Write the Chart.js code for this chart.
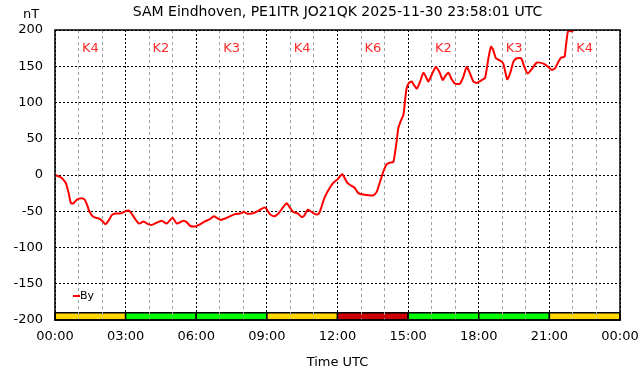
<!DOCTYPE html>
<html>
<head>
<meta charset="utf-8">
<script src="https://cdn.jsdelivr.net/npm/chart.js@4/dist/chart.umd.min.js"></script>
<style>
  html, body { margin: 0; padding: 0; background: #fff; }
  #wrap { width: 642px; height: 376px; }
</style>
</head>
<body>
<div id="wrap"><canvas id="magChart" width="642" height="376"></canvas></div>
<script>
// By component, hours UTC and nT
var hours = [
  0.00, 0.23, 0.37, 0.47, 0.58, 0.68, 0.79, 0.93, 1.12, 1.26, 1.36, 1.47, 1.64, 1.86,
  2.00, 2.14, 2.25, 2.42, 2.56, 2.78, 2.92, 3.13, 3.27, 3.41, 3.58, 3.77, 3.91, 4.09,
  4.18, 4.53, 4.74, 5.00, 5.17, 5.45, 5.59, 5.73, 5.95, 6.16, 6.37, 6.58, 6.75, 6.87,
  7.04, 7.22, 7.43, 7.65, 7.86, 8.03, 8.14, 8.36, 8.54, 8.71, 8.88, 8.99, 9.13, 9.30,
  9.49, 9.70, 9.84, 9.98, 10.12, 10.31, 10.48, 10.59, 10.73, 10.86, 11.05, 11.19, 11.30,
  11.44, 11.61, 11.82, 12.00, 12.20, 12.42, 12.60, 12.74, 12.88, 13.10, 13.31, 13.52,
  13.67, 13.81, 13.95, 14.09, 14.23, 14.37, 14.44, 14.52, 14.58, 14.68, 14.80, 14.87,
  14.94, 15.04, 15.15, 15.25, 15.37, 15.50, 15.65, 15.79, 15.86, 16.00, 16.18, 16.33,
  16.47, 16.57, 16.71, 16.85, 16.99, 17.20, 17.35, 17.49, 17.63, 17.77, 17.91, 18.13,
  18.27, 18.41, 18.52, 18.62, 18.73, 18.90, 19.04, 19.21, 19.33, 19.47, 19.61, 19.80,
  19.94, 20.08, 20.25, 20.46, 20.60, 20.79, 20.96, 21.10, 21.24, 21.38, 21.50, 21.64,
  21.70, 21.77, 21.82, 21.95, 22.09, 22.40, 22.80, 23.10, 23.40, 23.60, 24.00
];
var byValues = [
  0, -3, -7, -12, -25, -39, -39, -34, -32, -34, -41, -51, -58, -60,
  -63, -68, -64, -55, -53, -53, -51, -49, -54, -61, -67, -64, -67, -69,
  -68, -63, -67, -59, -67, -63, -65, -70, -71, -68, -64, -61, -57, -59,
  -62, -60, -57, -54, -53, -51, -53, -53, -51, -48, -45, -47, -54, -57,
  -53, -44, -39, -45, -51, -53, -58, -56, -48, -50, -54, -54, -46,
  -32, -21, -11, -6, 1, -11, -15, -18, -25, -27, -28, -28,
  -23, -9, 5, 15, 17, 18, 30, 48, 64, 74, 83, 103,
  120, 127, 129, 124, 119, 128, 141, 133, 129, 138, 149, 142,
  131, 136, 141, 132, 126, 126, 136, 149, 140, 129, 127, 131,
  134, 161, 177, 172, 161, 158, 154, 132, 140, 156, 161, 161,
  149, 140, 146, 155, 155, 153, 149, 145, 147, 156, 162, 163,
  177, 195, 199, 198, 202, 212, 215, 208, 201, 206, 212
];
// K index per 3-hour block
var kStarts = [0, 3, 6, 9, 12, 15, 18, 21];
var kIndex = [4, 2, 3, 4, 6, 2, 3, 4];

var FONT = "'DejaVu Sans', sans-serif";

function kColor(k) {
  if (k >= 5) return '#cc0000';
  if (k == 4) return '#ffd700';
  return '#00ff00';
}

var points = [];
for (var i = 0; i < hours.length; i++) {
  points.push({x: hours[i], y: byValues[i]});
}

function hourLabel(v) {
  var h = v % 24;
  return (h < 10 ? '0' : '') + h + ':00';
}

var kBarPlugin = {
  id: 'kBar',
  beforeDraw: function(chart) {
    var ctx = chart.ctx, xs = chart.scales.x, ys = chart.scales.y;
    var top = ys.getPixelForValue(-190), bottom = ys.getPixelForValue(-200);
    ctx.save();
    for (var i = 0; i < kStarts.length; i++) {
      var x0 = xs.getPixelForValue(kStarts[i]);
      var x1 = xs.getPixelForValue(kStarts[i] + 3);
      ctx.fillStyle = kColor(kIndex[i]);
      ctx.fillRect(x0, top, x1 - x0, bottom - top);
      ctx.strokeStyle = '#000';
      ctx.lineWidth = 1.5;
      ctx.strokeRect(x0, top, x1 - x0, bottom - top);
    }
    ctx.restore();
  },
  afterDraw: function(chart) {
    var ctx = chart.ctx, xs = chart.scales.x, ys = chart.scales.y;
    var a = chart.chartArea;
    ctx.save();
    // frame
    ctx.strokeStyle = '#000';
    ctx.lineWidth = 1.5;
    ctx.strokeRect(a.left, a.top, a.right - a.left, a.bottom - a.top);
    // title
    ctx.fillStyle = '#000';
    ctx.font = '14px ' + FONT;
    ctx.textAlign = 'center';
    ctx.textBaseline = 'middle';
    ctx.fillText('SAM Eindhoven, PE1ITR JO21QK 2025-11-30 23:58:01 UTC', (a.left + a.right) / 2, 12);
    ctx.font = '13px ' + FONT;
    ctx.fillText('nT', 31, 15);
    // K labels
    ctx.fillStyle = '#ff2a2a';
    for (var i = 0; i < kStarts.length; i++) {
      ctx.fillText('K' + kIndex[i], xs.getPixelForValue(kStarts[i] + 1.5), ys.getPixelForValue(174));
    }
    // legend
    ctx.strokeStyle = '#ff0000';
    ctx.lineWidth = 2;
    ctx.beginPath();
    ctx.moveTo(73, 296);
    ctx.lineTo(80, 296);
    ctx.stroke();
    ctx.fillStyle = '#000';
    ctx.font = '11px ' + FONT;
    ctx.textAlign = 'left';
    ctx.fillText('By', 80, 296);
    ctx.restore();
  }
};

var magChart = new Chart(document.getElementById('magChart'), {
  type: 'line',
  data: {
    datasets: [{
      label: 'By',
      data: points,
      borderColor: '#ff0000',
      borderWidth: 2,
      pointRadius: 0,
      tension: 0.2,
      fill: false
    }]
  },
  options: {
    responsive: false,
    animation: false,
    layout: { padding: { top: 30, right: 22, left: 0, bottom: 0 } },
    plugins: {
      legend: { display: false },
      title: { display: false },
      tooltip: { enabled: false }
    },
    scales: {
      x: {
        type: 'linear',
        position: 'bottom',
        min: 0, max: 24,
        afterFit: function(s) { s.height = 56; s.paddingLeft = 0; s.paddingRight = 0; },
        ticks: {
          stepSize: 3,
          padding: 9,
          color: '#000',
          font: { family: FONT, size: 13 },
          maxRotation: 0,
          autoSkip: false,
          callback: function(v) { return hourLabel(v); }
        },
        grid: { color: '#000', lineWidth: 1, drawTicks: false },
        border: { display: false, dash: [2, 2] },
        title: {
          display: true,
          text: 'Time UTC',
          color: '#000',
          font: { family: FONT, size: 13 },
          padding: { top: 0, bottom: 6 }
        }
      },
      xMinor: {
        type: 'linear',
        position: 'bottom',
        min: 0, max: 24,
        afterFit: function(s) { s.height = 0; s.paddingLeft = 0; s.paddingRight = 0; },
        ticks: { stepSize: 1, display: false },
        grid: {
          drawTicks: false,
          lineWidth: 1,
          color: function(c) { return (c.tick && c.tick.value % 3 === 0) ? 'rgba(0,0,0,0)' : '#a0a0a0'; }
        },
        border: { display: false, dash: [3, 3] }
      },
      y: {
        min: -200, max: 200,
        afterFit: function(s) { s.width = 55; },
        ticks: {
          stepSize: 50,
          padding: 12,
          color: '#000',
          font: { family: FONT, size: 13 }
        },
        grid: { color: '#000', lineWidth: 1, drawTicks: false },
        border: { display: false, dash: [2, 2] }
      }
    }
  },
  plugins: [kBarPlugin]
});
</script>
</body>
</html>
